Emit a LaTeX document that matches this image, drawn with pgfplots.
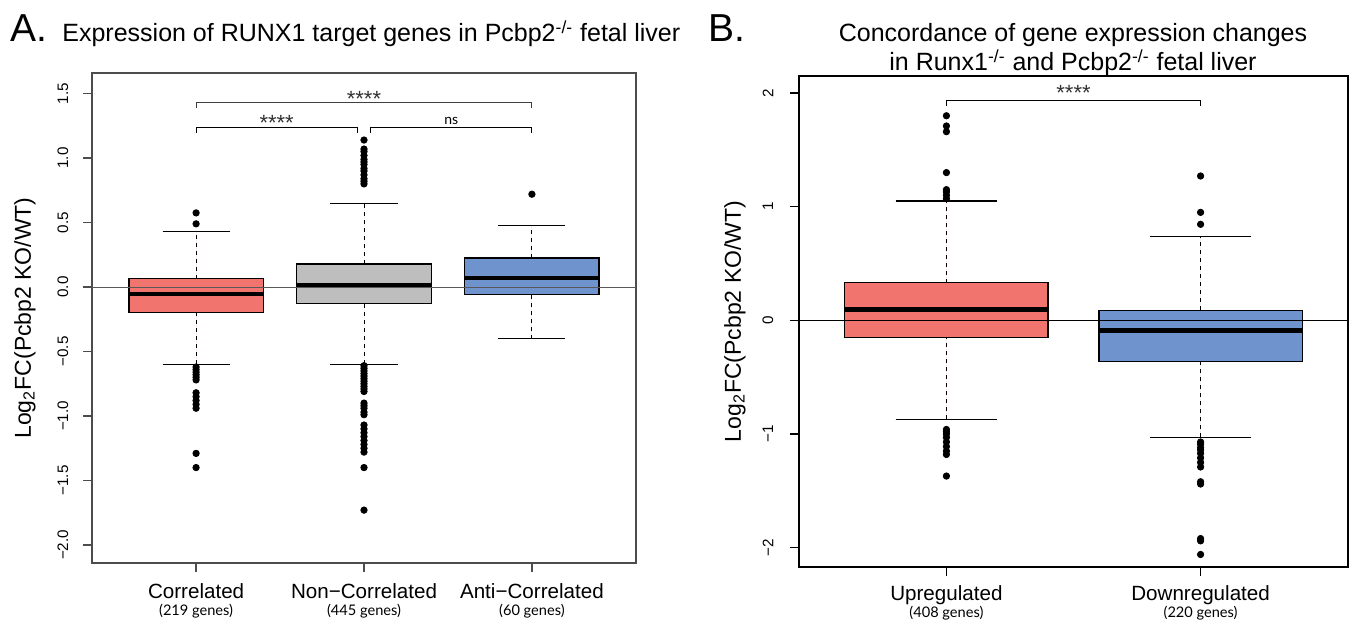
\documentclass[border=0pt]{standalone}
\usepackage{pgfplots}
\pgfplotsset{compat=1.18}
\usepgfplotslibrary{statistics}
\usepackage{fontspec}
\setmainfont{Liberation Sans}
\newfontfamily\notefont{Lato}

\definecolor{boxred}{HTML}{F1756E}
\definecolor{boxgray}{HTML}{BEBEBE}
\definecolor{boxblue}{HTML}{6E93CD}

\tikzset{ylab/.style={rotate=90, inner sep=0pt, font=\fontsize{7.6}{8}\selectfont}}

\pgfplotsset{
  rpanel/.style={
    scale only axis,
    anchor=south west,
    clip=false,
    tick align=outside,
    major tick length=4.5pt,
    xtick pos=bottom,
    ytick pos=left,
    yticklabels={},
    xticklabel style={align=center, anchor=north, inner sep=0pt,
      font=\fontsize{10.3}{8.5}\selectfont},
    boxplot/draw direction=y,
    boxplot/box extend=0.8,
    boxplot/whisker extend=0.4,
    boxplot/every box/.style={line width=0.6pt},
    boxplot/draw/lower whisker/.code={%
      \draw[line width=0.5pt, dash pattern=on 2pt off 2pt]
        (boxplot box cs:\pgfplotsboxplotvalue{lower whisker},0.5) --
        (boxplot box cs:\pgfplotsboxplotvalue{lower quartile},0.5);
      \draw[line width=0.6pt]
        (boxplot whisker cs:\pgfplotsboxplotvalue{lower whisker},0) --
        (boxplot whisker cs:\pgfplotsboxplotvalue{lower whisker},1);
    },
    boxplot/draw/upper whisker/.code={%
      \draw[line width=0.5pt, dash pattern=on 2pt off 2pt]
        (boxplot box cs:\pgfplotsboxplotvalue{upper quartile},0.5) --
        (boxplot box cs:\pgfplotsboxplotvalue{upper whisker},0.5);
      \draw[line width=0.6pt]
        (boxplot whisker cs:\pgfplotsboxplotvalue{upper whisker},0) --
        (boxplot whisker cs:\pgfplotsboxplotvalue{upper whisker},1);
    },
  },
  outl/.style={mark=*, mark size=1.6pt, mark options={solid, fill=black, draw=black}},
}

\begin{document}
\begin{tikzpicture}
\useasboundingbox (0,0) rectangle (677pt,312pt);

% titles
\node[anchor=base west, font=\fontsize{19.5}{20}\selectfont, inner sep=0pt] at (5pt,291pt) {A.};
\node[anchor=base west, font=\fontsize{12.5}{14}\selectfont, inner sep=0pt] at (31pt,291pt)
  {Expression of RUNX1 target genes in Pcbp2\textsuperscript{-/-} fetal liver};
\node[anchor=base west, font=\fontsize{19.5}{20}\selectfont, inner sep=0pt] at (354pt,291pt) {B.};
\node[anchor=base, font=\fontsize{12.5}{14}\selectfont, inner sep=0pt] at (536.5pt,291pt)
  {Concordance of gene expression changes};
\node[anchor=base, font=\fontsize{12.5}{14}\selectfont, inner sep=0pt] at (536.5pt,276.5pt)
  {in Runx1\textsuperscript{-/-} and Pcbp2\textsuperscript{-/-} fetal liver};

% ---------------- panel A ----------------
\begin{axis}[rpanel, at={(46pt,30.5pt)}, width=272pt, height=245pt,
  xmin=0.38, xmax=3.62, ymin=-2.14, ymax=1.66,
  axis line style={black!70, line width=0.7pt},
  tick style={black!70, line width=0.7pt},
  xticklabel shift=5.5pt,
  boxplot/every median/.style={line width=1.75pt},
  xtick={1,2,3},
  xticklabels={
    {Correlated\\{\notefont\fontsize{7.3}{8.5}\selectfont (219 genes)}},
    {Non−Correlated\\{\notefont\fontsize{7.3}{8.5}\selectfont (445 genes)}},
    {Anti−Correlated\\{\notefont\fontsize{7.3}{8.5}\selectfont (60 genes)}}},
  ytick={-2,-1.5,-1,-0.5,0,0.5,1,1.5},
]
\addplot[boxplot prepared={draw position=1, lower whisker=-0.60, lower quartile=-0.20,
    median=-0.055, upper quartile=0.065, upper whisker=0.43},
  draw=black, fill=boxred, outl]
  table[row sep=\\, y index=0] {v\\ 0.575\\ 0.49\\ -0.62\\ -0.64\\ -0.66\\ -0.68\\ -0.70\\ -0.72\\
    -0.82\\ -0.85\\ -0.88\\ -0.91\\ -0.94\\ -1.29\\ -1.40\\};
\addplot[boxplot prepared={draw position=2, lower whisker=-0.60, lower quartile=-0.13,
    median=0.015, upper quartile=0.178, upper whisker=0.645},
  draw=black, fill=boxgray, outl]
  table[row sep=\\, y index=0] {v\\ 1.14\\ 1.07\\ 1.05\\ 1.02\\ 0.99\\ 0.97\\ 0.95\\ 0.92\\ 0.90\\
    0.87\\ 0.84\\ 0.82\\ 0.80\\ -0.61\\ -0.63\\ -0.65\\ -0.67\\ -0.69\\ -0.71\\ -0.73\\ -0.75\\
    -0.77\\ -0.79\\ -0.81\\ -0.90\\ -0.92\\ -0.94\\ -0.97\\ -0.99\\ -1.07\\ -1.10\\ -1.13\\
    -1.16\\ -1.19\\ -1.22\\ -1.25\\ -1.28\\ -1.40\\ -1.73\\};
\addplot[boxplot prepared={draw position=3, lower whisker=-0.40, lower quartile=-0.06,
    median=0.07, upper quartile=0.225, upper whisker=0.48},
  draw=black, fill=boxblue, outl]
  table[row sep=\\, y index=0] {v\\ 0.72\\};
% zero line
\addplot[black!65, line width=0.5pt, mark=none] coordinates {(0.38,0) (3.62,0)};
% significance brackets
\addplot[black!75, line width=0.5pt, mark=none] coordinates {(1,1.39) (1,1.43) (3,1.43) (3,1.39)};
\addplot[black, line width=0.5pt, mark=none] coordinates {(1,1.195) (1,1.235) (1.96,1.235) (1.96,1.195)};
\addplot[black, line width=0.5pt, mark=none] coordinates {(2.04,1.195) (2.04,1.235) (3,1.235) (3,1.195)};
\node[font=\fontsize{11}{12}\selectfont, text=black!80, inner sep=0pt] at (axis cs:2,1.46) {****};
\node[font=\fontsize{11}{12}\selectfont, text=black!80, inner sep=0pt] at (axis cs:1.48,1.27) {****};
\node[font=\notefont\fontsize{7}{8}\selectfont, inner sep=0pt] at (axis cs:2.52,1.29) {ns};
% y tick labels
\node[ylab] at ([xshift=-14.5pt]axis cs:0.38,-2)   {−2.0};
\node[ylab] at ([xshift=-14.5pt]axis cs:0.38,-1.5) {−1.5};
\node[ylab] at ([xshift=-14.5pt]axis cs:0.38,-1)   {−1.0};
\node[ylab] at ([xshift=-14.5pt]axis cs:0.38,-0.5) {−0.5};
\node[ylab] at ([xshift=-14.5pt]axis cs:0.38,0)    {0.0};
\node[ylab] at ([xshift=-14.5pt]axis cs:0.38,0.5)  {0.5};
\node[ylab] at ([xshift=-14.5pt]axis cs:0.38,1)    {1.0};
\node[ylab] at ([xshift=-14.5pt]axis cs:0.38,1.5)  {1.5};
\node[rotate=90, font=\fontsize{11.5}{12}\selectfont] at ([xshift=-33.5pt]rel axis cs:0,0.5)
  {Log\textsubscript{2}FC(Pcbp2 KO/WT)};
\end{axis}

% ---------------- panel B ----------------
\begin{axis}[rpanel, at={(399.5pt,28.5pt)}, width=274.5pt, height=245.5pt,
  xmin=0.42, xmax=2.58, ymin=-2.17, ymax=2.15,
  axis line style={black, line width=0.7pt},
  tick style={black, line width=0.7pt},
  xticklabel shift=4.5pt,
  boxplot/every median/.style={line width=2.2pt},
  xtick={1,2},
  xticklabels={
    {Upregulated\\{\notefont\fontsize{7.3}{8.5}\selectfont (408 genes)}},
    {Downregulated\\{\notefont\fontsize{7.3}{8.5}\selectfont (220 genes)}}},
  ytick={-2,-1,0,1,2},
]
\addplot[boxplot prepared={draw position=1, lower whisker=-0.87, lower quartile=-0.15,
    median=0.095, upper quartile=0.33, upper whisker=1.05},
  draw=black, fill=boxred, outl]
  table[row sep=\\, y index=0] {v\\ 1.80\\ 1.71\\ 1.66\\ 1.30\\ 1.15\\ 1.13\\ 1.10\\ 1.07\\
    -0.96\\ -0.98\\ -1.00\\ -1.03\\ -1.07\\ -1.11\\ -1.15\\ -1.18\\ -1.37\\};
\addplot[boxplot prepared={draw position=2, lower whisker=-1.03, lower quartile=-0.36,
    median=-0.09, upper quartile=0.09, upper whisker=0.74},
  draw=black, fill=boxblue, outl]
  table[row sep=\\, y index=0] {v\\ 1.27\\ 0.95\\ 0.845\\ -1.07\\ -1.09\\ -1.12\\ -1.14\\ -1.17\\
    -1.21\\ -1.25\\ -1.29\\ -1.42\\ -1.44\\ -1.92\\ -1.94\\ -2.06\\};
\addplot[black, line width=0.65pt, mark=none] coordinates {(0.42,0) (2.58,0)};
\addplot[black, line width=0.5pt, mark=none] coordinates {(1,1.89) (1,1.93) (2,1.93) (2,1.89)};
\node[font=\fontsize{11}{12}\selectfont, text=black!80, inner sep=0pt] at (axis cs:1.5,2.0) {****};
% y tick labels
\node[ylab] at ([xshift=-15.5pt]axis cs:0.42,-2) {−2};
\node[ylab] at ([xshift=-15.5pt]axis cs:0.42,-1) {−1};
\node[ylab] at ([xshift=-15.5pt]axis cs:0.42,0)  {0};
\node[ylab] at ([xshift=-15.5pt]axis cs:0.42,1)  {1};
\node[ylab] at ([xshift=-15.5pt]axis cs:0.42,2)  {2};
\node[rotate=90, font=\fontsize{11.5}{12}\selectfont] at ([xshift=-32pt]rel axis cs:0,0.5)
  {Log\textsubscript{2}FC(Pcbp2 KO/WT)};
\end{axis}
\end{tikzpicture}
\end{document}
